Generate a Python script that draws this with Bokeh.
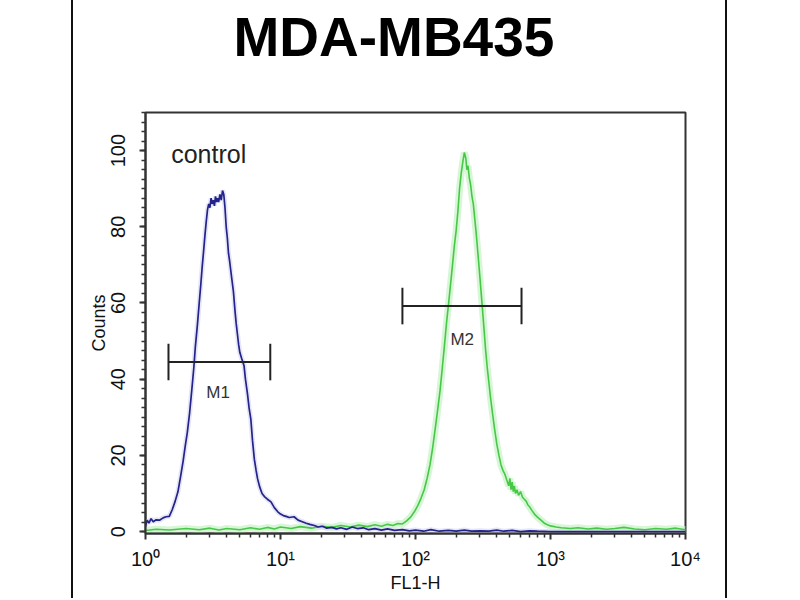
from bokeh.plotting import figure
from bokeh.embed import file_html
from bokeh.resources import INLINE
from bokeh.models import FixedTicker, SingleIntervalTicker, LogAxis, Title
from bokeh.core.properties import value

# ---------------- data ----------------
title_text = "MDA-MB435"
x_label = "FL1-H"
y_label = "Counts"

decades = [1, 10, 100, 1000, 10000]
decade_labels = ["10⁰", "10¹", "10²", "10³", "10⁴"]

# control (blue) histogram: FL1-H value, counts
control_x = [1.00, 1.03, 1.06, 1.10, 1.14, 1.20, 1.27, 1.35, 1.42, 1.50, 1.58, 1.66, 1.74,
             1.82, 1.90, 1.97, 2.04, 2.12, 2.20, 2.28, 2.34, 2.42, 2.50, 2.57, 2.63, 2.70,
             2.76, 2.82, 2.88, 2.94, 3.00, 3.06, 3.12, 3.18, 3.24, 3.30, 3.36, 3.42, 3.48,
             3.56, 3.64, 3.72, 3.80, 3.88, 3.96, 4.04, 4.12, 4.20, 4.30, 4.37, 4.48, 4.60,
             4.70, 4.79, 4.90, 5.00, 5.15, 5.37, 5.50, 5.70, 5.85, 6.03, 6.20, 6.40, 6.60,
             6.76, 7.00, 7.30, 7.60, 8.00, 8.50, 9.00, 9.55, 10.0, 10.5, 11.0, 11.6, 12.6,
             13.5, 14.5, 15.5, 16.5, 17.8, 19.0, 20.5, 22.0, 24.0, 26.0, 28.0, 31.0, 34.0,
             37.0, 41.0, 45.0, 50.0, 56.0, 62.0, 70.0, 80.0, 90.0, 100, 115, 130, 150, 175,
             200, 230, 260, 300, 350, 400, 450, 520, 600, 700, 800, 1000, 1300, 1800, 2500,
             3500, 5000, 7000, 10000]
control_y = [1.5, 3.0, 2.2, 3.4, 2.6, 3.1, 3.0, 3.6, 3.9, 4.0, 5.8, 8.0, 10.5,
             14.5, 18.5, 22.5, 26.0, 31.0, 37.0, 43.0, 48.5, 54.0, 60.0, 65.0, 69.5, 74.0,
             78.0, 81.5, 84.5, 86.0, 85.0, 87.5, 86.0, 87.0, 85.5, 88.0, 86.5, 87.5, 86.5,
             88.5, 87.0, 89.5, 88.5, 85.0, 80.0, 77.0, 73.0, 71.0, 68.0, 66.0, 63.0, 58.0,
             54.5, 52.0, 49.0, 47.0, 45.5, 43.5, 40.0, 36.0, 32.5, 29.5, 24.0, 19.0, 16.0,
             13.9, 11.8, 10.0, 9.2, 8.5, 7.8, 6.3, 5.2, 4.6, 4.2, 4.0, 3.7, 3.9,
             3.0, 2.6, 2.2, 1.9, 1.6, 1.2, 1.4, 0.9, 1.1, 0.7, 1.0, 0.6, 1.2,
             0.8, 1.0, 0.5, 0.8, 0.4, 0.7, 0.3, 0.5, 0.2, 0.4, 0.1, 0.5, 0.1, 0.3,
             0.1, 0.4, 0.1, 0.2, 0.1, 0.4, 0.1, 0.3, 0.0, 0.2, 0.1, 0.0, 0.0, 0.0, 0.0,
             0.0, 0.0, 0.0, 0.0]

# stained (green) histogram: FL1-H value, counts
stained_x = [1.0, 1.2, 1.5, 2.0, 2.5, 3.0, 3.5, 4.0, 5.0, 6.0, 7.0, 8.0, 9.0, 10, 12, 14,
             17, 20, 24, 28, 33, 38, 44, 50, 56, 62, 68, 74, 80, 86, 92, 98, 104, 110, 116,
             122, 128, 134, 140, 146, 152, 158, 164, 170, 176, 182, 188, 194, 200, 206, 212,
             218, 224, 230, 236, 240, 245, 250, 256, 262, 268, 275, 282, 290, 298, 306, 314,
             322, 330, 340, 350, 360, 372, 385, 400, 415, 430, 445, 460, 475, 490, 500, 510,
             520, 530, 540, 550, 565, 580, 600, 620, 640, 660, 680, 700, 730, 760, 800, 850,
             900, 950, 1000, 1100, 1200, 1400, 1600, 1900, 2200, 2600, 3000, 3500, 4200,
             5000, 6000, 7200, 8500, 10000]
stained_y = [0.3, 0.6, 0.4, 0.8, 0.5, 0.9, 0.4, 0.8, 0.5, 1.0, 0.6, 1.1, 0.7, 1.2, 0.8, 1.3,
             0.9, 1.4, 1.1, 1.6, 1.2, 1.7, 1.3, 1.8, 1.4, 1.9, 1.6, 2.1, 2.0, 2.8, 3.8, 5.2,
             6.8, 8.8, 11.0, 14.0, 17.5, 22.0, 27.0, 32.0, 37.0, 43.0, 49.0, 55.0, 60.0, 65.0,
             70.0, 75.0, 79.0, 84.0, 90.0, 94.0, 97.0, 99.5, 98.0, 95.0, 96.0, 93.0, 91.0,
             88.0, 86.0, 82.0, 78.0, 73.0, 68.0, 63.0, 58.0, 53.0, 48.0, 43.0, 39.0, 35.0,
             31.0, 27.0, 23.0, 20.0, 17.5, 16.0, 15.0, 13.5, 12.0, 14.0, 11.0, 13.0, 10.5,
             12.0, 10.0, 11.0, 9.5, 10.5, 9.0, 8.5, 8.0, 7.0, 6.5, 5.5, 4.6, 3.8, 3.0, 2.2,
             1.8, 1.5, 1.2, 1.0, 0.8, 1.0, 0.7, 0.9, 0.6, 0.8, 1.1, 0.7, 0.5, 0.8, 0.6, 0.9,
             0.5]

# marker gates
gate_names = ["M1", "M2"]
gate_lo = [1.48, 80.0]
gate_hi = [8.4, 610.0]
gate_y = [44.5, 59.2]
gate_cap = [4.8, 4.8]
gate_label_x = [3.45, 222.0]
gate_label_y = [36.5, 50.5]

annot_text = ["control"]
annot_x = [1.55]
annot_y = [95.5]

# ---------------- figure ----------------
FONT = "Liberation Sans"
W, H = 798, 598
p = figure(width=W, height=H, x_axis_type="log", x_range=(1, 10000),
           y_range=(-0.5, 110), output_backend="svg", toolbar_location=None,
           min_border_left=145, min_border_right=W - 685, min_border_top=112,
           min_border_bottom=H - 533, background_fill_color="white",
           border_fill_alpha=0.0)
# thin vertical rules framing the whole picture, drawn as the page background
p.styles = {"background": "linear-gradient(to right, white 0px, white 71px, #111 71px, "
                          "#111 73px, white 73px, white 725px, #111 725px, #111 727px, "
                          "white 727px, white 100%)"}

p.xgrid.visible = False
p.ygrid.visible = False
p.outline_line_color = "#333333"
p.outline_line_width = 2

xa = p.below[0]
ya = p.left[0]
xa.ticker = FixedTicker(ticks=decades,
                        minor_ticks=[m * d for d in decades[:-1] for m in range(2, 10)])
xa.major_label_overrides = {d: lab for d, lab in zip(decades, decade_labels)}
xa.axis_label = x_label
ya.ticker = SingleIntervalTicker(interval=20, num_minor_ticks=8)
ya.axis_label = y_label
ya.major_label_orientation = "vertical"

for ax in (xa, ya):
    ax.axis_line_color = "#333333"
    ax.axis_line_width = 2
    ax.major_tick_line_color = "#333333"
    ax.minor_tick_line_color = "#333333"
    ax.major_tick_line_width = 2
    ax.minor_tick_line_width = 1.5
    ax.major_tick_out = 6
    ax.major_tick_in = 0
    ax.minor_tick_out = 4
    ax.minor_tick_in = 0
    ax.major_label_text_font = FONT
    ax.major_label_text_font_size = "20px"
    ax.major_label_text_color = "#111111"
    ax.axis_label_text_font = FONT
    ax.axis_label_text_font_size = "18px"
    ax.axis_label_text_font_style = "normal"
    ax.axis_label_text_color = "#111111"
xa.major_label_standoff = 8
xa.axis_label_standoff = 0
ya.major_label_standoff = 14
ya.axis_label_standoff = 0

# blank gap between the plot frame and the title (an axis with nothing drawn)
gap = LogAxis(ticker=FixedTicker(ticks=[decades[0]]), major_tick_out=45, major_tick_in=0,
              minor_tick_out=0, minor_tick_in=0, axis_line_color=None,
              major_tick_line_color=None, minor_tick_line_color=None,
              major_label_text_color=None, major_label_text_font_size="0px",
              major_label_standoff=0, axis_label=None)
p.add_layout(gap, "above")
p.add_layout(Title(text=title_text, text_font=FONT, text_font_size="55px",
                   text_font_style="bold", text_color="black", align="left",
                   offset=88, standoff=0), "above")

# histograms with soft halos
p.line(stained_x, stained_y, line_color="#c4f2c4", line_width=7, line_alpha=0.7)
p.line(control_x, control_y, line_color="#dcdcf2", line_width=5, line_alpha=0.7)
p.line(stained_x, stained_y, line_color="#46c846", line_width=1.6)
p.line(control_x, control_y, line_color="#23238c", line_width=1.7)

# gates
cap_lo = [y - c for y, c in zip(gate_y, gate_cap)]
cap_hi = [y + c for y, c in zip(gate_y, gate_cap)]
p.segment(x0=gate_lo, x1=gate_hi, y0=gate_y, y1=gate_y, line_color="#222222", line_width=2)
p.segment(x0=gate_lo, x1=gate_lo, y0=cap_lo, y1=cap_hi, line_color="#222222", line_width=2)
p.segment(x0=gate_hi, x1=gate_hi, y0=cap_lo, y1=cap_hi, line_color="#222222", line_width=2)
p.text(x=gate_label_x, y=gate_label_y, text=gate_names, text_font=value(FONT),
       text_font_size="17px", text_color="#333333", text_align="center",
       text_baseline="middle")
p.text(x=annot_x, y=annot_y, text=annot_text, text_font=value(FONT),
       text_font_size="25px", text_color="#222222", text_align="left",
       text_baseline="bottom")

open("out.html", "w").write(file_html(p, INLINE))
